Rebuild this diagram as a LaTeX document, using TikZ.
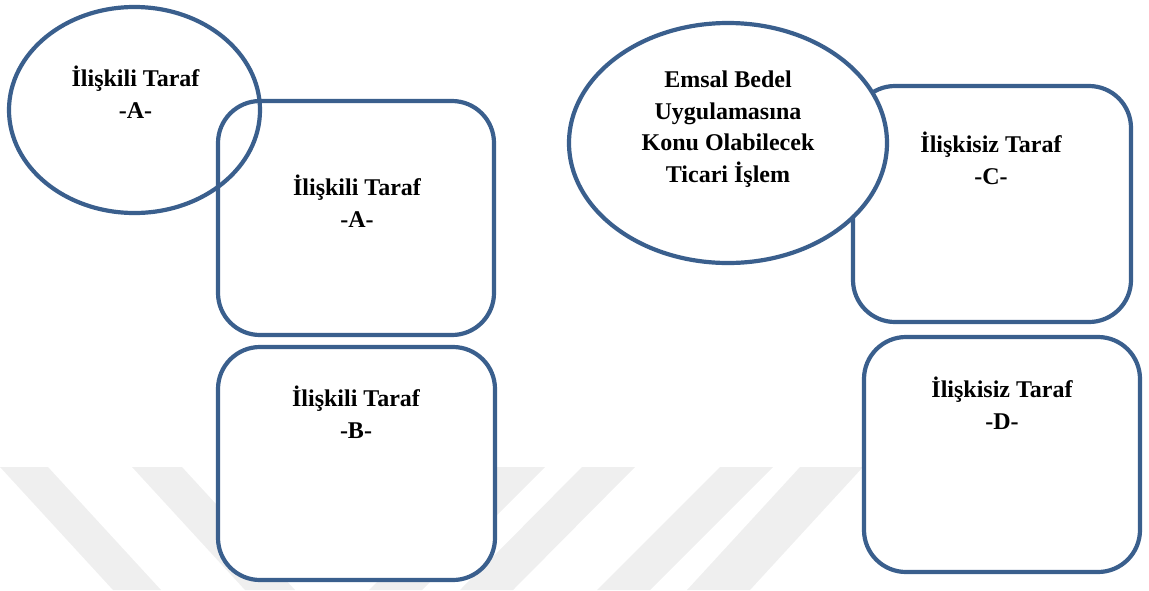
\documentclass[tikz,border=0pt]{standalone}
\usepackage{fontspec}
\setmainfont{Liberation Serif}
\usetikzlibrary{shapes.geometric}
\definecolor{frameblue}{RGB}{58,95,141}
\definecolor{markgray}{RGB}{239,239,239}
\begin{document}
\begin{tikzpicture}[x=1pt,y=-1pt,
  party/.style={draw=frameblue, line width=4.2pt, rounded corners=42pt, fill=white, inner sep=0pt},
  oval/.style={draw=frameblue, line width=4.2pt, ellipse, inner sep=0pt},
  caption/.style={font=\bfseries\fontsize{24}{31.5}\selectfont, align=center, anchor=base, inner sep=0pt},
  stripe/.style={fill=markgray, draw=none}]
\useasboundingbox (0,0) rectangle (1149,590);

% faint diagonal background stripes
\fill[stripe] (0,467) -- (48,467) -- (161,590) -- (113,590) -- cycle;
\fill[stripe] (132,467) -- (182,467) -- (295,590) -- (245,590) -- cycle;
\fill[stripe] (492,467) -- (545,467) -- (422,590) -- (369,590) -- cycle;
\fill[stripe] (582,467) -- (635,467) -- (513,590) -- (460,590) -- cycle;
\fill[stripe] (720,467) -- (773,467) -- (650,590) -- (597,590) -- cycle;
\fill[stripe] (800,467) -- (863,467) -- (750,590) -- (687,590) -- cycle;

% related parties (left)
\node[party, minimum width=276pt, minimum height=234pt] (boxA) at (356,218) {};
\node[party, minimum width=277pt, minimum height=233pt] (boxB) at (356.5,463.5) {};
\node[oval, minimum width=251pt, minimum height=206pt] (ovalA) at (134.5,110) {};

% unrelated parties and the transaction (right)
\node[party, minimum width=278pt, minimum height=236pt] (boxC) at (992,204) {};
\node[party, minimum width=276pt, minimum height=235pt] (boxD) at (1002,454.5) {};
\node[oval, fill=white, minimum width=318pt, minimum height=240pt] (ovalT) at (728,143) {};

% captions (placed by the baseline of their last line)
\node[caption] (capOvalA) at (135.5,118) {İlişkili Taraf\\-A-};
\node[caption] (capA) at (357,227) {İlişkili Taraf\\-A-};
\node[caption] (capB) at (356,438) {İlişkili Taraf\\-B-};
\node[caption] (capT) at (728,182) {Emsal Bedel\\Uygulamasına\\Konu Olabilecek\\Ticari İşlem};
\node[caption] (capC) at (991,184) {İlişkisiz Taraf\\-C-};
\node[caption] (capD) at (1002,429) {İlişkisiz Taraf\\-D-};
\end{tikzpicture}
\end{document}
